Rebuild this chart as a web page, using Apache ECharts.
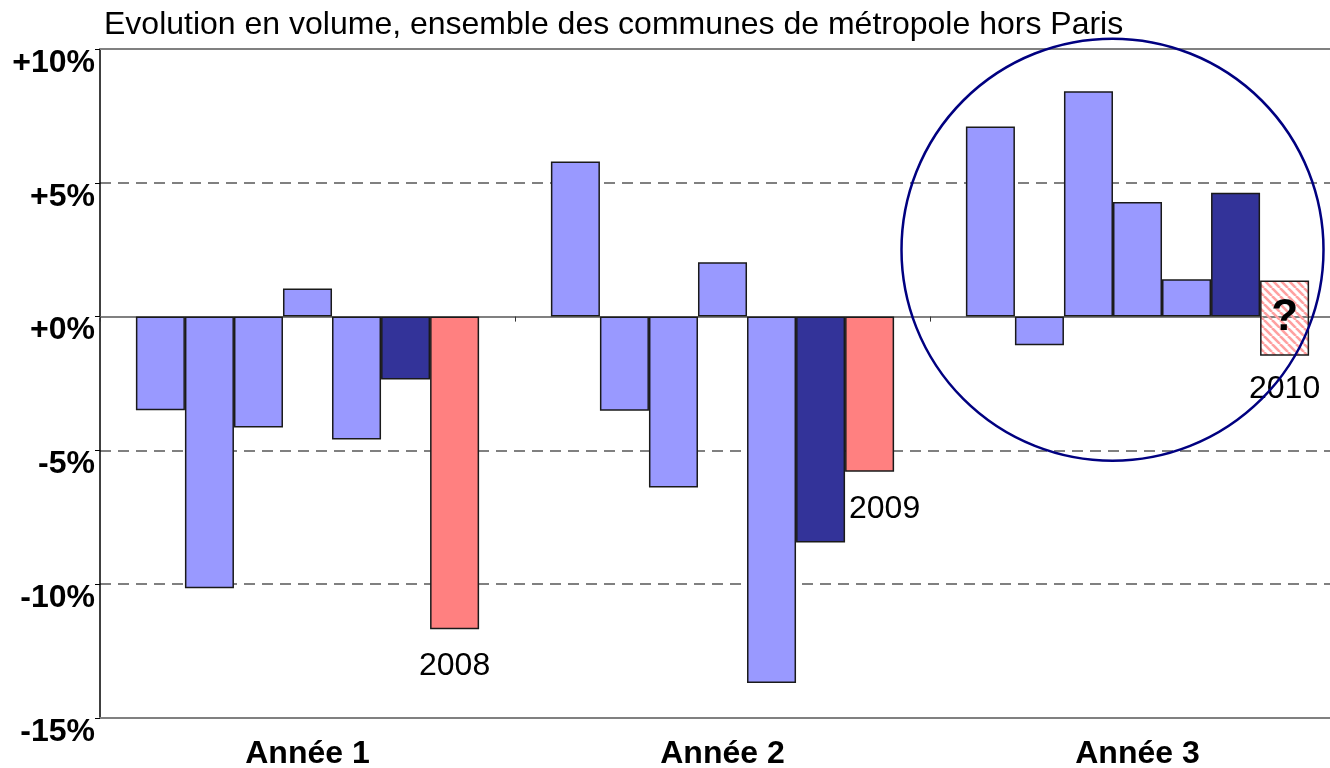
<!DOCTYPE html>
<html>
<head>
<meta charset="utf-8">
<script src="https://cdn.jsdelivr.net/npm/echarts@6/dist/echarts.min.js"></script>
<style>
  html, body { margin: 0; padding: 0; background: #fff; }
  #chart { width: 1330px; height: 768px; }
</style>
</head>
<body>
<div id="chart"></div>
<script>
const categories = ['Année 1', 'Année 2', 'Année 3'];
const serie1 = [-3.5, 5.8, 7.1];
const serie2 = [-10.15, -3.52, -1.07];
const serie3 = [-4.14, -6.39, 8.42];
const serie4 = [1.05, 2.03, 4.28];
const serie5 = [-4.59, -13.69, 1.4];
const moyenne = [-2.35, -8.44, 4.63];
// bar rose : de basEstim à hautEstim (fourchette pour 2010)
const basEstim = [0, 0, -1.46];
const hautEstim = [-11.68, -5.8, 1.35];
const yearLabels = ['2008', '2009', '2010'];

const font = 'Liberation Sans, Arial, sans-serif';
const light = '#9999ff';
const dark = '#333399';
const pink = '#ff8080';
const border = '#1a1a1a';

// motif hachuré pour l'estimation 2010
const tile = document.createElement('canvas');
tile.width = 8;
tile.height = 8;
const ctx = tile.getContext('2d');
ctx.strokeStyle = '#ffa0a0';
ctx.lineWidth = 2.6;
[-8, 0, 8].forEach(k => {
  ctx.beginPath();
  ctx.moveTo(k, 0);
  ctx.lineTo(k + 8, 8);
  ctx.stroke();
});
const hatch = { image: tile, repeat: 'repeat' };

const barStyle = (color) => ({ color: color, borderColor: border, borderWidth: 1.5 });

const simple = (data, color) => ({
  type: 'bar',
  data: data,
  itemStyle: barStyle(color),
  silent: true
});

const baseData = basEstim.map((v, i) => {
  if (i === 2) {
    return {
      value: v,
      label: { show: true, position: 'bottom', distance: 18, formatter: yearLabels[i] }
    };
  }
  return v;
});

const rangeData = hautEstim.map((h, i) => {
  if (i === 2) {
    return {
      value: +(h - basEstim[i]).toFixed(2),
      itemStyle: { color: hatch, borderColor: border, borderWidth: 1.5 },
      label: { show: true, position: 'inside', formatter: '?', fontSize: 44, fontWeight: 'bold' }
    };
  }
  return {
    value: h,
    label: {
      show: true, position: 'bottom', distance: 21, formatter: yearLabels[i],
      offset: i === 1 ? [15, 0] : [0, 0]
    }
  };
});

const chart = echarts.init(document.getElementById('chart'));
const option = {
  animation: false,
  backgroundColor: '#fff',
  textStyle: { fontFamily: font },
  title: {
    text: 'Evolution en volume, ensemble des communes de métropole hors Paris',
    left: 99,
    top: 4,
    textStyle: { fontSize: 32, fontWeight: 'normal', color: '#000', fontFamily: font }
  },
  grid: { left: 100, width: 1245, top: 49, height: 669, containLabel: false, outerBoundsMode: 'none' },
  xAxis: [
    {
      type: 'category',
      data: categories,
      position: 'bottom',
      axisLine: { onZero: false, lineStyle: { color: '#808080', width: 2 } },
      axisTick: { show: false },
      axisLabel: { fontSize: 32, fontWeight: 'bold', color: '#000', margin: 20, fontFamily: font }
    },
    {
      type: 'category',
      data: categories,
      position: 'top',
      axisLine: { onZero: false, lineStyle: { color: '#808080', width: 2 } },
      axisTick: { show: false },
      axisLabel: { show: false }
    },
    {
      type: 'category',
      data: categories,
      position: 'bottom',
      axisLine: { onZero: true, lineStyle: { color: '#808080', width: 2 } },
      axisTick: { show: true, length: 5, lineStyle: { color: '#333', width: 1 } },
      axisLabel: { show: false }
    }
  ],
  yAxis: {
    type: 'value',
    min: -15,
    max: 10,
    interval: 5,
    axisLine: { show: true, lineStyle: { color: '#000', width: 1.5 } },
    axisTick: { show: true, length: 5, lineStyle: { color: '#000' } },
    axisLabel: {
      fontSize: 32,
      fontWeight: 'bold',
      color: '#000',
      margin: 5,
      fontFamily: font,
      verticalAlign: 'top',
      lineHeight: 28,
      formatter: (v) => (v >= 0 ? '+' + v : '' + v) + '%'
    },
    splitLine: { lineStyle: { color: '#808080', width: 2, type: [11, 7] } }
  },
  series: [
    Object.assign(simple(serie1, light), { barGap: '0%', barCategoryGap: '17.3%' }),
    simple(serie2, light),
    simple(serie3, light),
    simple(serie4, light),
    simple(serie5, light),
    simple(moyenne, dark),
    {
      type: 'bar',
      stack: 'estim',
      stackStrategy: 'all',
      data: baseData,
      itemStyle: { color: 'rgba(0,0,0,0)', borderWidth: 0 },
      label: { color: '#000', fontSize: 32, fontFamily: font },
      silent: true
    },
    {
      type: 'bar',
      stack: 'estim',
      stackStrategy: 'all',
      data: rangeData,
      itemStyle: barStyle(pink),
      label: { color: '#000', fontSize: 32, fontFamily: font },
      silent: true
    }
  ]
};
chart.setOption(option);

// cercle autour de l'année 3
const c = chart.convertToPixel({ xAxisIndex: 0, yAxisIndex: 0 }, ['Année 3', 2.5]);
chart.setOption({
  graphic: [{
    type: 'circle',
    z: 100,
    silent: true,
    shape: { cx: c[0] - 25, cy: c[1], r: 211 },
    style: { fill: 'none', stroke: '#000080', lineWidth: 2.5 }
  }]
});
</script>
</body>
</html>
